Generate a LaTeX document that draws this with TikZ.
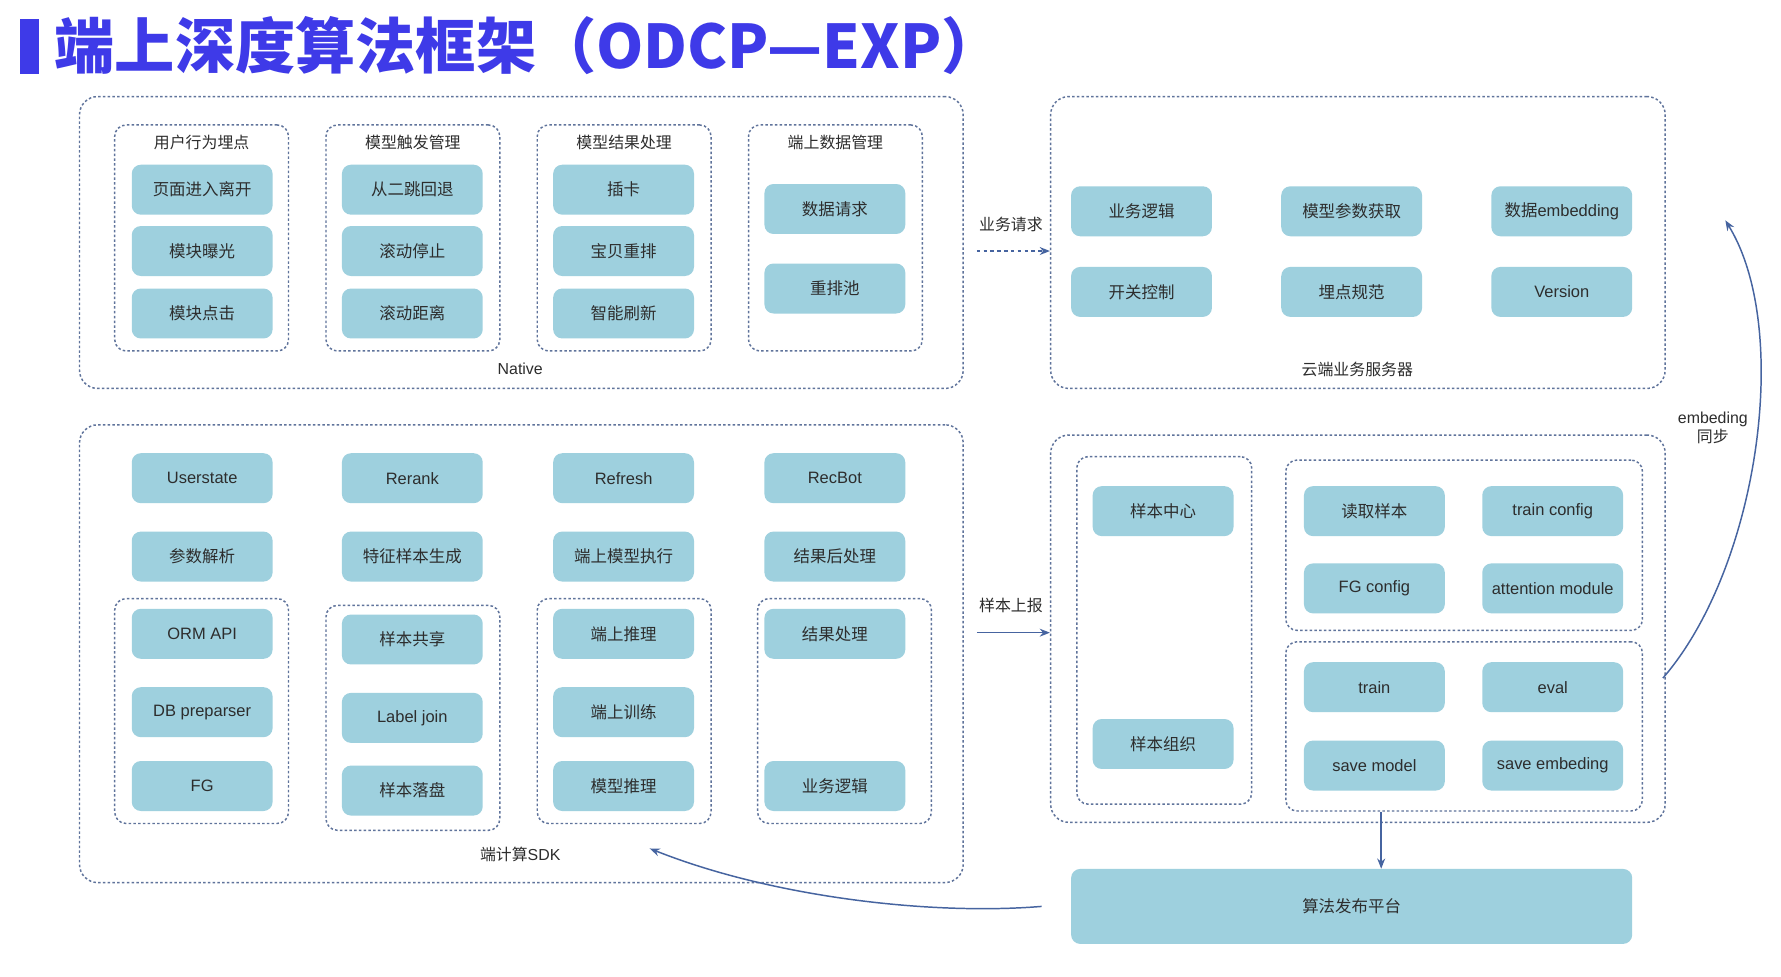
\documentclass[tikz,border=0pt]{standalone}
\usepackage{fontspec}
\setmainfont{Liberation Sans}
\newfontfamily\cjk{Noto Sans CJK SC}
\usetikzlibrary{arrows.meta}
\definecolor{nodeblue}{RGB}{158,208,222}
\definecolor{dotc}{RGB}{95,115,155}
\definecolor{arrc}{RGB}{70,100,160}
\definecolor{titlec}{RGB}{62,58,232}
\definecolor{txt}{RGB}{45,45,45}
\begin{document}
\begin{tikzpicture}[x=1pt,y=-1pt,
 box/.style={rectangle, rounded corners=8pt, fill=nodeblue, minimum width=124pt, minimum height=44pt, inner sep=0pt, text=txt, font=\fontsize{14.5}{16}\selectfont},
 grp/.style={rectangle, rounded corners=10pt, draw=dotc, line width=1.3pt, dash pattern=on 2.2pt off 2pt, inner sep=0pt},
 outer/.style={grp, rounded corners=16pt},
 lbl/.style={text=txt, font=\fontsize{14}{16}\selectfont, inner sep=0pt},
 arr/.style={draw=arrc, line width=1.3pt, -{Stealth[length=9pt,width=7pt]}},
]
\fill[white] (0,0) rectangle (1568,860);
\useasboundingbox (0,0) rectangle (1568,860);

% title
\node[fill=titlec, minimum width=16pt, minimum height=48pt, inner sep=0pt] (bar) at (26,41) {};
\node[anchor=west, text=titlec, font=\fontsize{53}{58}\selectfont\cjk\bfseries, inner sep=0pt] (title) at (48,40) {端上深度算法框架（ODCP—EXP）};

% ===== Native =====
\node[outer, minimum width=778pt, minimum height=257pt] (native) at (459,213.5) {};
\node[lbl] (nativel) at (458,325) {Native};
\node[grp, minimum width=153pt, minimum height=199pt] (ng1) at (177.5,209.5) {};
\node[grp, minimum width=153pt, minimum height=199pt] (ng2) at (363.5,209.5) {};
\node[grp, minimum width=153pt, minimum height=199pt] (ng3) at (549.5,209.5) {};
\node[grp, minimum width=153pt, minimum height=199pt] (ng4) at (735.5,209.5) {};
\node[lbl] (ng1t) at (177.5,125) {\cjk 用户行为埋点};
\node[lbl] (ng2t) at (363.5,125) {\cjk 模型触发管理};
\node[lbl] (ng3t) at (549.5,125) {\cjk 模型结果处理};
\node[lbl] (ng4t) at (735.5,125) {\cjk 端上数据管理};
\node[box] (a1) at (178,167) {\cjk 页面进入离开};
\node[box] (a2) at (178,221) {\cjk 模块曝光};
\node[box] (a3) at (178,276) {\cjk 模块点击};
\node[box] (b1) at (363,167) {\cjk 从二跳回退};
\node[box] (b2) at (363,221) {\cjk 滚动停止};
\node[box] (b3) at (363,276) {\cjk 滚动距离};
\node[box] (c1) at (549,167) {\cjk 插卡};
\node[box] (c2) at (549,221) {\cjk 宝贝重排};
\node[box] (c3) at (549,276) {\cjk 智能刷新};
\node[box] (d1) at (735,184) {\cjk 数据请求};
\node[box] (d2) at (735,254) {\cjk 重排池};

% ===== Cloud =====
\node[outer, minimum width=541pt, minimum height=257pt] (cloud) at (1195.5,213.5) {};
\node[lbl] (cloudl) at (1195,325) {\cjk 云端业务服务器};
\node[box] (e1) at (1005,186) {\cjk 业务逻辑};
\node[box] (e2) at (1190,186) {\cjk 模型参数获取};
\node[box] (e3) at (1375,186) {{\cjk 数据}embedding};
\node[box] (e4) at (1005,257) {\cjk 开关控制};
\node[box] (e5) at (1190,257) {\cjk 埋点规范};
\node[box] (e6) at (1375,257) {Version};

% request arrow
\node[lbl] (reql) at (890,198) {\cjk 业务请求};
\coordinate (reqs) at (860,221);
\draw[arr, dash pattern=on 3pt off 3pt] (reqs) -- (reqs -| cloud.west);

% ===== SDK =====
\node[outer, minimum width=778pt, minimum height=403pt] (sdk) at (459,575.5) {};
\node[lbl] (sdkl) at (458,752) {{\cjk 端计算}SDK};
\node[box] (f1) at (178,421) {Userstate};
\node[box] (f2) at (363,421) {Rerank};
\node[box] (f3) at (549,421) {Refresh};
\node[box] (f4) at (735,421) {RecBot};
\node[box] (g1) at (178,490) {\cjk 参数解析};
\node[box] (g2) at (363,490) {\cjk 特征样本生成};
\node[box] (g3) at (549,490) {\cjk 端上模型执行};
\node[box] (g4) at (735,490) {\cjk 结果后处理};
\node[grp, minimum width=153pt, minimum height=198pt] (sg1) at (177.5,626) {};
\node[grp, minimum width=153pt, minimum height=198pt] (sg2) at (363.5,632) {};
\node[grp, minimum width=153pt, minimum height=198pt] (sg3) at (549.5,626) {};
\node[grp, minimum width=153pt, minimum height=198pt] (sg4) at (743.5,626) {};
\node[box] (h1) at (178,558) {ORM API};
\node[box] (h2) at (178,627) {DB preparser};
\node[box] (h3) at (178,692) {FG};
\node[box] (i1) at (363,563) {\cjk 样本共享};
\node[box] (i2) at (363,632) {Label join};
\node[box] (i3) at (363,696) {\cjk 样本落盘};
\node[box] (j1) at (549,558) {\cjk 端上推理};
\node[box] (j2) at (549,627) {\cjk 端上训练};
\node[box] (j3) at (549,692) {\cjk 模型推理};
\node[box] (k1) at (735,558) {\cjk 结果处理};
\node[box] (k2) at (735,692) {\cjk 业务逻辑};

% ===== Training =====
\node[outer, minimum width=541pt, minimum height=341pt] (train) at (1195.5,553.5) {};
\node[grp, minimum width=154pt, minimum height=306pt] (tg1) at (1025,555) {};
\node[grp, minimum width=314pt, minimum height=150pt] (tg2) at (1289,480) {};
\node[grp, minimum width=314pt, minimum height=149pt] (tg3) at (1289,639.5) {};
\node[box] (l1) at (1024,450) {\cjk 样本中心};
\node[box] (l2) at (1024,655) {\cjk 样本组织};
\node[box] (m1) at (1210,450) {\cjk 读取样本};
\node[box] (m2) at (1367,450) {train config};
\node[box] (m3) at (1210,518) {FG config};
\node[box] (m4) at (1367,518) {attention module};
\node[box] (o1) at (1210,605) {train};
\node[box] (o2) at (1367,605) {eval};
\node[box] (o3) at (1210,674) {save model};
\node[box] (o4) at (1367,674) {save embeding};

% upload arrow
\node[lbl] (upl) at (890,533) {\cjk 样本上报};
\coordinate (ups) at (860,557);
\draw[arr] (ups) -- (ups -| train.west);

% release
\node[box, minimum width=494pt, minimum height=66pt] (rel) at (1190,798) {\cjk 算法发布平台};
\coordinate (dx) at (1216,0);
\draw[arr] (dx |- tg3.south) -- (dx |- rel.north);

% embedding sync
\coordinate (es) at (1464,597);
\coordinate (ee) at (1519,194);
\draw[arr] (es) .. controls (1548,500) and (1578,290) .. (ee);
\node[lbl, align=center] (esl) at (1508,377) {embeding\\[1pt]{\cjk 同步}};

% back to SDK
\coordinate (bs) at (917,798);
\coordinate (be) at (572,747);
\draw[arr] (bs) .. controls (820,806) and (680,790) .. (be);
\end{tikzpicture}
\end{document}
